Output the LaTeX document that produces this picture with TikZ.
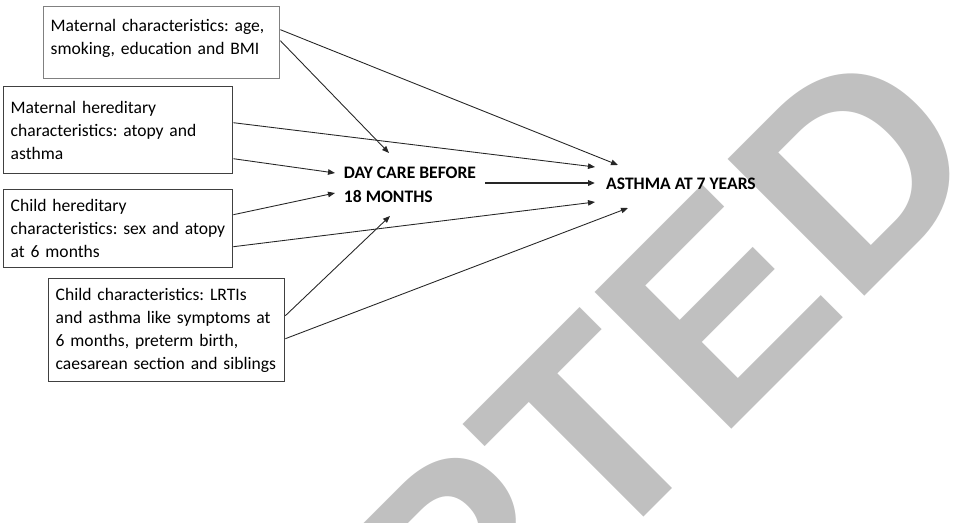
\documentclass[tikz,border=0pt]{standalone}
\usepackage{fontspec}
\setmainfont{Carlito}
\newfontfamily\stampfont{Liberation Sans}
\usetikzlibrary{arrows.meta,calc}
\definecolor{wmgray}{HTML}{C0C0C0}
\definecolor{boxgray}{HTML}{404040}
\hyphenpenalty=10000
\frenchspacing

\begin{document}
\begin{tikzpicture}[x=0.02cm,y=-0.02cm,
  factor/.style={draw=boxgray,line width=0.8pt,anchor=north west,align=left,
    inner xsep=0.14cm,inner ysep=0pt,font=\fontsize{10}{13}\selectfont},
  outcome/.style={font=\fontsize{10}{13.5}\selectfont\bfseries,align=left,inner sep=0pt},
  arrow/.style={-{Triangle[length=1.4mm,width=1.1mm]},line width=0.5pt,black!85},
  watermark/.style={text=wmgray,font=\stampfont\fontsize{160}{160}\selectfont\bfseries,
    rotate=45,inner sep=0pt}]
\useasboundingbox (0,0) rectangle (961,522);
\clip (0,0) rectangle (961,522);
% watermark behind the diagram
\node[watermark,anchor=base east] (stamp) at (995,166) {ACCEPTED};
% confounders
\node[factor,draw=black!50,text width=4.44cm,minimum height=1.44cm,
  inner ysep=7pt,text depth=19.8pt] (mchar) at (43,6)
  {Maternal characteristics: age,\\smoking, education and BMI};
\node[factor,text width=4.3cm,minimum height=1.74cm] (mhered) at (3,86)
  {Maternal hereditary\\characteristics: atopy and\\asthma};
\node[factor,text width=4.3cm,minimum height=1.56cm] (chered) at (3,189)
  {Child hereditary\\characteristics: sex and atopy\\at 6 months};
\node[factor,text width=4.44cm,minimum height=2.06cm] (cchar) at (48,278)
  {Child characteristics: LRTIs\\and asthma like symptoms at\\6 months, preterm birth,\\caesarean section and siblings};
% exposure and outcome
\node[outcome] (daycare) at (410,185) {DAY CARE BEFORE\\18 MONTHS};
\node[outcome] (asthma) at (681,184) {ASTHMA AT 7 YEARS};
% paths
\draw[arrow] ($(mchar.east)+(0,-2)$) -- ($(daycare)+(-21,-32)$);
\draw[arrow] ($(mchar.east)+(0,-13)$) -- ($(asthma)+(-63,-19)$);
\draw[arrow] ($(mhered.east)+(0,-7.5)$) -- ($(asthma)+(-86,-17)$);
\draw[arrow] ($(mhered.east)+(0,28.5)$) -- ($(daycare)+(-75,-12)$);
\draw[arrow] ($(chered.east)+(0,-14)$) -- ($(daycare)+(-75,8)$);
\draw[arrow] ($(chered.east)+(0,18)$) -- ($(asthma)+(-86,18)$);
\draw[arrow] ($(cchar.east)+(0,-14.5)$) -- ($(daycare)+(-20,31)$);
\draw[arrow] ($(cchar.east)+(0,8.5)$) -- ($(asthma)+(-53,24)$);
\draw[arrow,line width=1.1pt] ($(daycare)+(75,-2)$) -- ($(asthma)+(-86,-1)$);
\end{tikzpicture}
\end{document}
